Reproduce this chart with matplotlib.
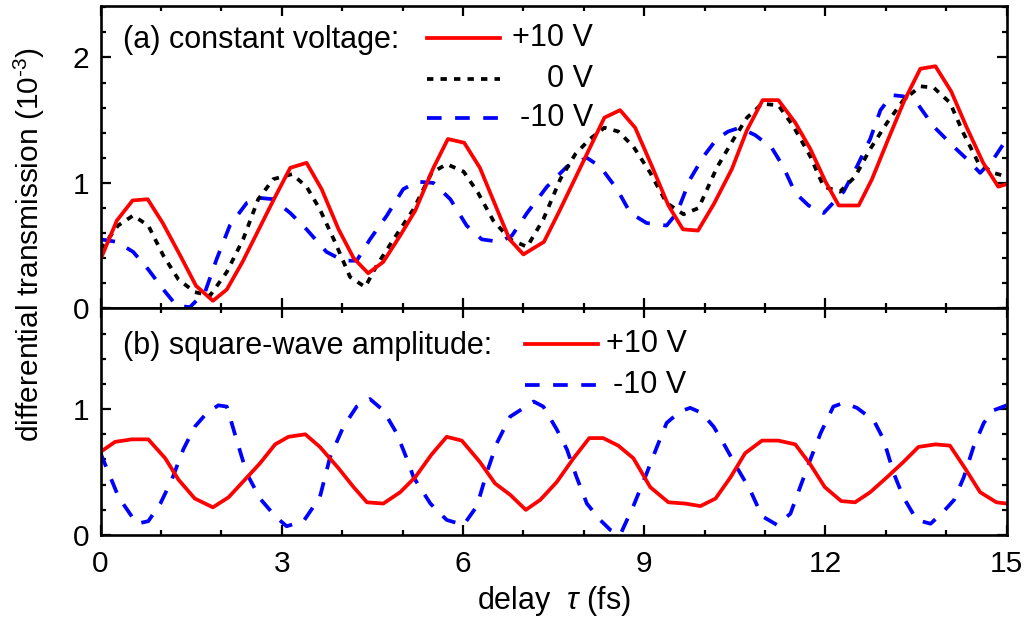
import matplotlib
matplotlib.use("Agg")
import matplotlib.pyplot as plt
from matplotlib.ticker import MultipleLocator

plt.rcParams['font.family'] = ['Liberation Sans', 'DejaVu Sans']
plt.rcParams['mathtext.fontset'] = 'custom'
plt.rcParams['mathtext.rm'] = 'Liberation Sans'
plt.rcParams['mathtext.it'] = 'Liberation Sans:italic'

# (a) constant voltage
xa_pos = [0.0, 0.27, 0.53, 0.78, 1.03, 1.32, 1.58, 1.86, 2.09, 2.35, 2.61, 2.87, 3.14, 3.41,
          3.66, 3.94, 4.19, 4.43, 4.68, 4.96, 5.21, 5.51, 5.75, 6.02, 6.28, 6.52, 6.77, 7.0,
          7.34, 7.6, 7.85, 8.1, 8.34, 8.60, 8.85, 9.13, 9.40, 9.64, 9.89, 10.15, 10.45, 10.70,
          10.96, 11.22, 11.50, 11.75, 12.0, 12.22, 12.55, 12.77, 13.04, 13.30, 13.57, 13.82,
          14.08, 14.34, 14.61, 14.86, 15.0]
ya_pos = [0.39, 0.70, 0.86, 0.87, 0.68, 0.42, 0.18, 0.06, 0.15, 0.37, 0.62, 0.87, 1.12, 1.16,
          0.95, 0.63, 0.40, 0.28, 0.37, 0.58, 0.78, 1.12, 1.35, 1.32, 1.12, 0.84, 0.55, 0.43,
          0.53, 0.78, 1.03, 1.28, 1.52, 1.58, 1.44, 1.13, 0.82, 0.63, 0.62, 0.83, 1.11, 1.42,
          1.66, 1.66, 1.48, 1.27, 1.01, 0.82, 0.82, 1.03, 1.35, 1.65, 1.91, 1.93,
          1.73, 1.44, 1.16, 0.97, 0.99]

xa_zero = [0.0, 0.29, 0.54, 0.79, 1.04, 1.29, 1.56, 1.81, 2.09, 2.36, 2.61, 2.86, 3.17, 3.41,
           3.63, 3.88, 4.13, 4.38, 4.57, 4.85, 5.18, 5.48, 5.73, 6.01, 6.25, 6.50, 6.78, 7.06,
           7.33, 7.61, 7.86, 8.10, 8.34, 8.57, 8.82, 9.10, 9.37, 9.65, 9.90, 10.20, 10.48, 10.70,
           10.95, 11.22, 11.47, 11.75, 11.97, 12.24, 12.49, 12.74, 13.02, 13.29, 13.57, 13.79,
           14.06, 14.28, 14.53, 14.78, 15.0]
ya_zero = [0.47, 0.66, 0.74, 0.66, 0.42, 0.23, 0.13, 0.10, 0.29, 0.55, 0.87, 1.03, 1.07, 0.97,
           0.79, 0.53, 0.25, 0.17, 0.34, 0.55, 0.79, 1.08, 1.15, 1.09, 0.92, 0.70, 0.55, 0.49,
           0.71, 1.03, 1.23, 1.35, 1.44, 1.41, 1.29, 1.08, 0.84, 0.75, 0.80, 1.12, 1.35, 1.52,
           1.63, 1.62, 1.45, 1.21, 0.97, 0.93, 1.05, 1.27, 1.48, 1.66, 1.77, 1.76,
           1.64, 1.40, 1.16, 1.08, 1.05]

xa_neg = [0.0, 0.27, 0.54, 0.79, 1.04, 1.26, 1.48, 1.73, 1.92, 2.14, 2.42, 2.64, 2.86, 3.14,
          3.41, 3.74, 4.02, 4.24, 4.46, 4.74, 5.01, 5.24, 5.51, 5.79, 6.06, 6.31, 6.61, 6.81,
          7.06, 7.39, 7.72, 8.05, 8.27, 8.55, 8.77, 9.04, 9.37, 9.54, 9.76, 9.98, 10.20, 10.39,
          10.58, 10.84, 11.11, 11.30, 11.50, 11.72, 11.97, 12.30, 12.52, 12.74, 12.91, 13.10,
          13.29, 13.51, 13.79, 14.12, 14.34, 14.56, 14.78, 15.0]
ya_neg = [0.55, 0.53, 0.45, 0.31, 0.15, 0.02, 0.01, 0.13, 0.39, 0.66, 0.84, 0.88, 0.87, 0.76,
          0.63, 0.45, 0.38, 0.38, 0.55, 0.74, 0.95, 1.01, 1.00, 0.87, 0.66, 0.55, 0.53, 0.58,
          0.76, 0.97, 1.13, 1.20, 1.13, 0.95, 0.76, 0.68, 0.66, 0.76, 1.03, 1.21, 1.35, 1.41,
          1.44, 1.38, 1.28, 1.13, 0.92, 0.82, 0.76, 0.93, 1.13, 1.35, 1.58, 1.70,
          1.69, 1.64, 1.45, 1.29, 1.19, 1.08, 1.19, 1.35]

# (b) square-wave amplitude
xb_pos = [0.0, 0.24, 0.52, 0.79, 1.07, 1.29, 1.56, 1.86, 2.12, 2.39, 2.64, 2.89, 3.11, 3.39,
          3.63, 3.94, 4.19, 4.41, 4.68, 4.96, 5.21, 5.48, 5.73, 5.98, 6.28, 6.53, 6.78, 7.04,
          7.28, 7.55, 7.83, 8.09, 8.32, 8.57, 8.82, 9.10, 9.40, 9.68, 9.93, 10.18, 10.43, 10.67,
          10.95, 11.22, 11.50, 11.75, 11.99, 12.26, 12.49, 12.74, 13.02, 13.29, 13.54, 13.82,
          14.06, 14.31, 14.56, 14.83, 15.0]
yb_pos = [0.66, 0.74, 0.76, 0.76, 0.61, 0.44, 0.29, 0.22, 0.30, 0.44, 0.57, 0.72, 0.78, 0.80,
          0.70, 0.53, 0.38, 0.26, 0.25, 0.34, 0.46, 0.64, 0.78, 0.75, 0.58, 0.41, 0.32, 0.20,
          0.28, 0.42, 0.61, 0.77, 0.77, 0.71, 0.61, 0.38, 0.26, 0.25, 0.23, 0.29, 0.46, 0.65,
          0.75, 0.75, 0.72, 0.56, 0.38, 0.27, 0.26, 0.34, 0.46, 0.58, 0.70, 0.72,
          0.71, 0.53, 0.34, 0.26, 0.25]

xb_neg = [0.0, 0.3, 0.60, 0.79, 0.99, 1.18, 1.37, 1.56, 1.76, 1.95, 2.09, 2.25, 2.42, 2.64,
          2.89, 3.08, 3.36, 3.63, 3.80, 4.02, 4.24, 4.46, 4.68, 4.90, 5.10, 5.18, 5.46, 5.73,
          6.01, 6.23, 6.39, 6.56, 6.78, 7.17, 7.33, 7.55, 7.72, 7.88, 8.05, 8.27, 8.44, 8.60,
          8.82, 9.04, 9.21, 9.37, 9.59, 9.76, 9.95, 10.15, 10.31, 10.53, 10.75, 10.95, 11.20,
          11.42, 11.58, 11.75, 11.92, 12.13, 12.30, 12.52, 12.80, 12.96, 13.13, 13.29, 13.51,
          13.74, 13.96, 14.13, 14.29, 14.45, 14.62, 14.78, 15.0]
yb_neg = [0.65, 0.30, 0.09, 0.11, 0.25, 0.44, 0.68, 0.86, 0.97, 1.03, 1.02, 0.76, 0.49, 0.29,
          0.15, 0.07, 0.11, 0.30, 0.62, 0.86, 1.02, 1.08, 0.99, 0.81, 0.57, 0.46, 0.25, 0.12,
          0.08, 0.23, 0.49, 0.73, 0.94, 1.06, 1.02, 0.84, 0.68, 0.46, 0.25, 0.12, 0.04, 0.00,
          0.23, 0.49, 0.70, 0.89, 0.98, 1.01, 0.97, 0.86, 0.73, 0.54, 0.36, 0.15, 0.08,
          0.17, 0.38, 0.60, 0.81, 1.02, 1.05, 1.01, 0.91, 0.76, 0.49, 0.30, 0.12,
          0.09, 0.19, 0.28, 0.46, 0.70, 0.89, 0.99, 1.03]

lw = 2.7
dot = (0, (1.7, 1.9))
dash = (0, (3.9, 3.6))
fs = 22

fig = plt.figure(figsize=(10.28, 6.28), dpi=100)
ax1 = fig.add_axes([0.0978, 0.509, 0.8815, 0.4814])
ax2 = fig.add_axes([0.0978, 0.148, 0.8815, 0.361], sharex=ax1)

ax1.plot(xa_neg, ya_neg, color='blue', lw=lw, ls=dash)
ax1.plot(xa_zero, ya_zero, color='black', lw=lw, ls=dot)
ax1.plot(xa_pos, ya_pos, color='red', lw=lw)

ax2.plot(xb_neg, yb_neg, color='blue', lw=lw, ls=dash)
ax2.plot(xb_pos, yb_pos, color='red', lw=lw)

ax1.set_xlim(0, 15)
ax1.set_ylim(0, 2.41)
ax2.set_ylim(0, 1.80)

for ax in (ax1, ax2):
    ax.xaxis.set_major_locator(MultipleLocator(3))
    ax.xaxis.set_minor_locator(MultipleLocator(1))
    ax.yaxis.set_major_locator(MultipleLocator(1))
    ax.yaxis.set_minor_locator(MultipleLocator(0.2))
    ax.tick_params(which='both', direction='in', top=True, right=True, width=1.6)
    ax.tick_params(which='major', length=7, labelsize=21.5)
    ax.tick_params(which='minor', length=3.8)
    ax.tick_params(axis='y', pad=8)
    ax.tick_params(axis='x', pad=11)
    for s in ax.spines.values():
        s.set_linewidth(1.9)
ax1.tick_params(labelbottom=False)

# panel (a) text and legend
ax1.text(0.0248, 0.8875, '(a) constant voltage:', transform=ax1.transAxes,
         fontsize=fs, va='center', ha='left')
rows_a = [('+10 V', 'red', '-', 0.893), ('0 V', 'black', dot, 0.760), ('-10 V', 'blue', dash, 0.631)]
for lab, c, ls, yy in rows_a:
    ax1.plot([0.360, 0.441], [yy, yy], transform=ax1.transAxes, color=c, lw=lw, ls=ls)
    ax1.text(0.5435, yy, lab, transform=ax1.transAxes, fontsize=fs, va='center', ha='right')

# panel (b) text and legend
ax2.text(0.0248, 0.834, '(b) square-wave amplitude:', transform=ax2.transAxes,
         fontsize=fs, va='center', ha='left')
rows_b = [('+10 V', 'red', '-', 0.8425), ('-10 V', 'blue', dash, 0.6617)]
for lab, c, ls, yy in rows_b:
    ax2.plot([0.4684, 0.549], [yy, yy], transform=ax2.transAxes, color=c, lw=lw, ls=ls)
    ax2.text(0.6469, yy, lab, transform=ax2.transAxes, fontsize=fs, va='center', ha='right')

ax2.set_xlabel(r'delay  $\it{\tau}$ (fs)', fontsize=fs, labelpad=4)
fig.text(0.029, 0.61, r'differential transmission (10$^{\text{-3}}$)', rotation=90,
         fontsize=21.5, va='center', ha='center')

fig.savefig('out.png', dpi=100)
